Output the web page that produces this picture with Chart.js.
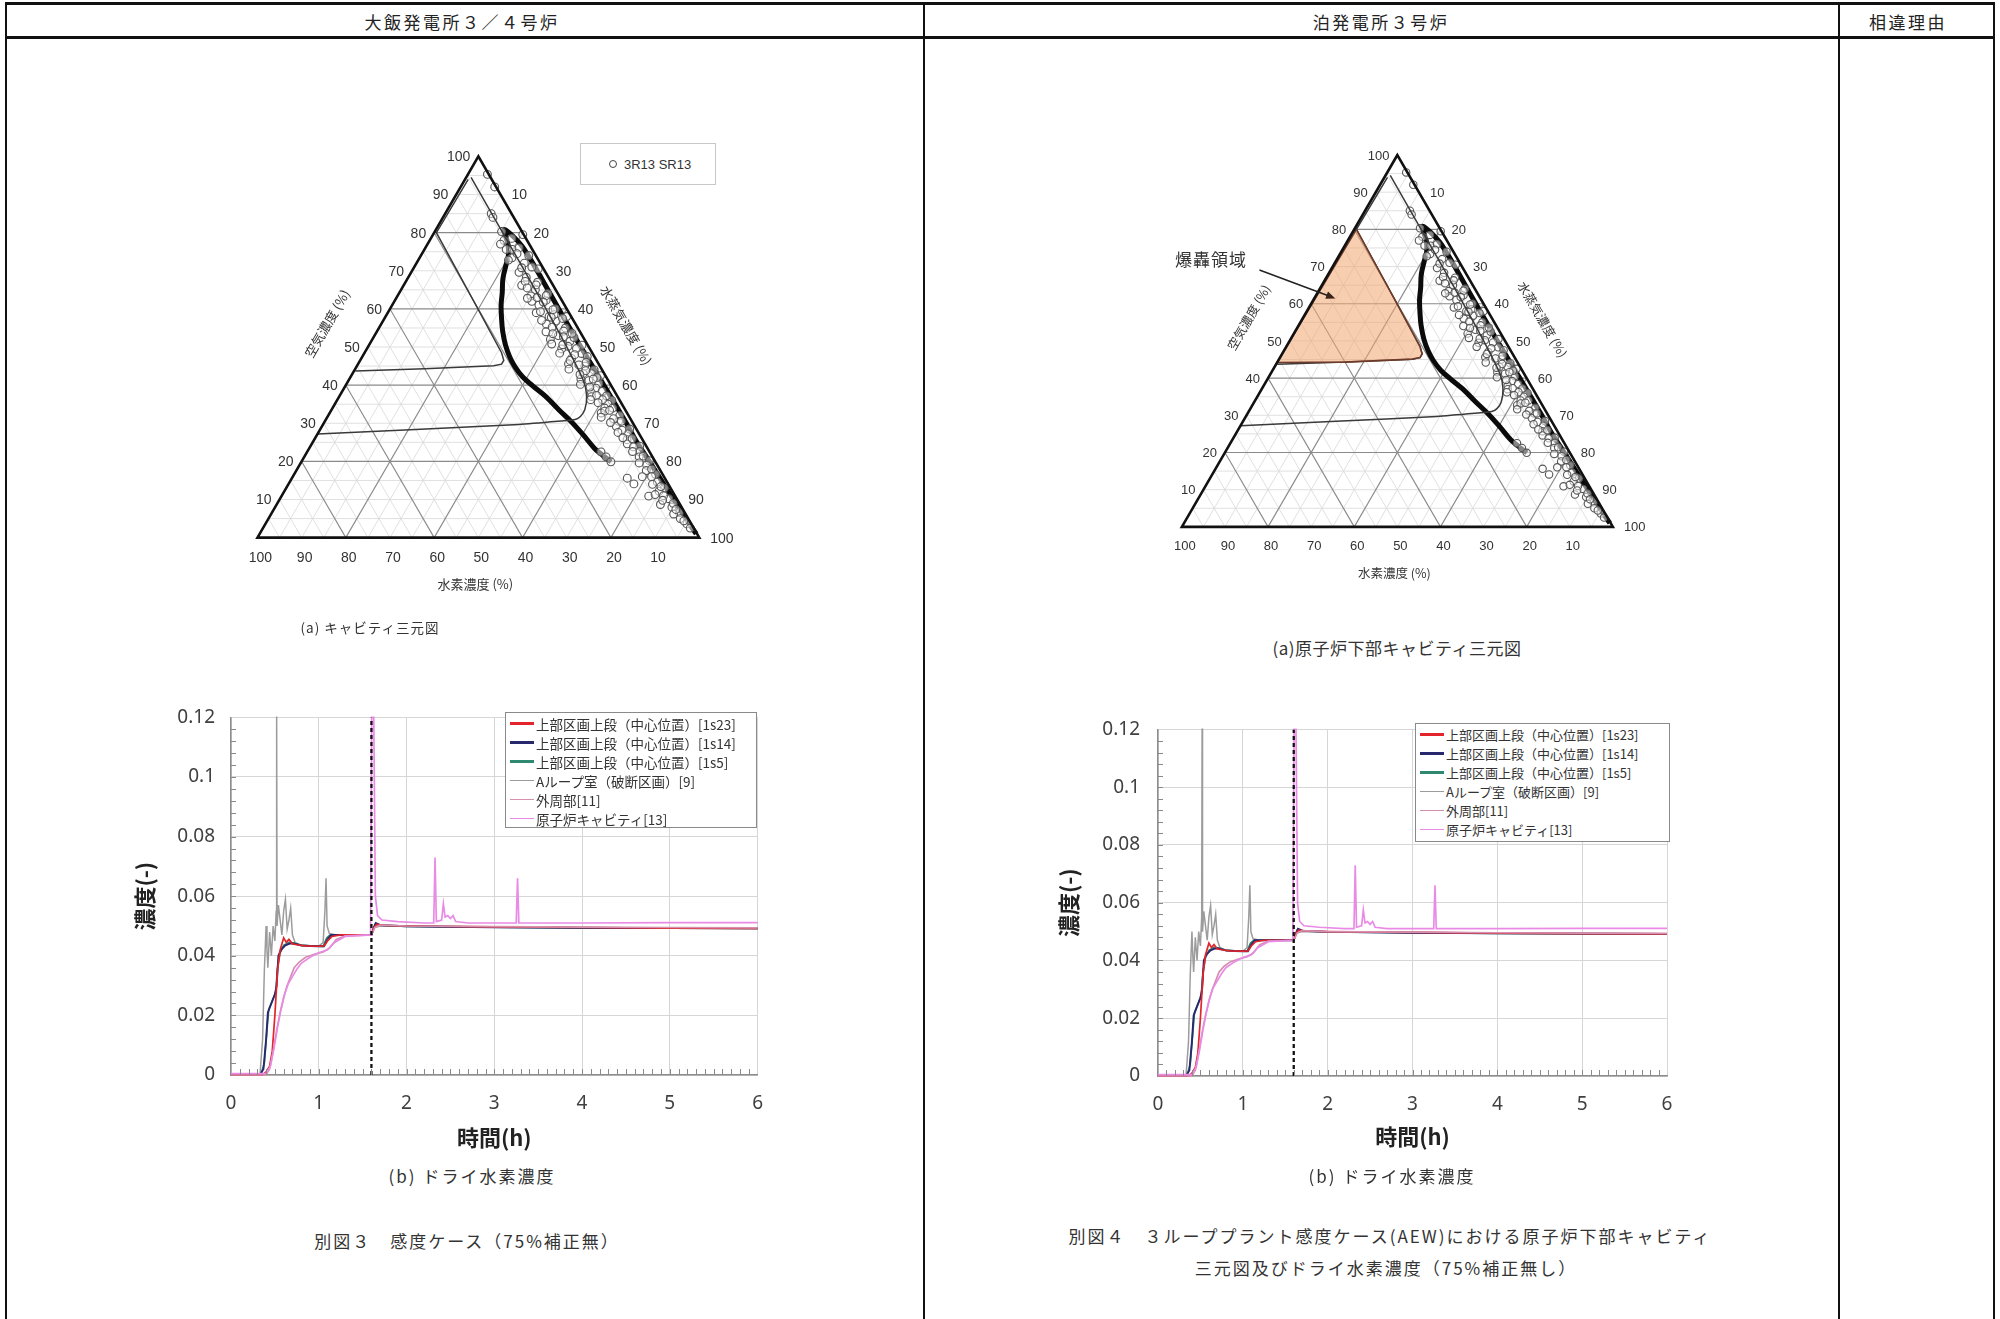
<!DOCTYPE html>
<html lang="ja">
<head>
<meta charset="utf-8">
<title>三元図及びドライ水素濃度</title>
<script src="https://cdn.jsdelivr.net/npm/chart.js@4.4.1/dist/chart.umd.min.js"></script>
<style>
  html, body { margin: 0; padding: 0; background: #fff; }
  body { position: relative; width: 2000px; height: 1319px; overflow: hidden;
         font-family: "Noto Sans CJK JP", sans-serif; color: #222; }
  .rule { position: absolute; background: #111; }
  .txt { position: absolute; white-space: nowrap; transform: translate(-50%, -50%); line-height: 1; }
  .hdr { font-size: 17px; letter-spacing: 2.5px; }
  .cap { font-size: 17px; letter-spacing: 2px; color: #333; }
  canvas { position: absolute; }
  .legend { position: absolute; background: #fff; border: 1.5px solid #8a8a8a; box-sizing: border-box;
            font-size: 13.5px; color: #333; padding-top: 1px; }
  .legend div { display: flex; align-items: center; height: 19px; white-space: nowrap; }
  .legend .sw { display: inline-block; width: 24px; height: 2px; margin: 0 2px 0 4px; }
  .tlegend { position: absolute; border: 1px solid #c8c8c8; background: #fff; box-sizing: border-box;
             font: 13px "Liberation Sans", Arial, sans-serif; color: #333; display: flex; align-items: center; }
  .tlegend i { display: inline-block; width: 6px; height: 6px; border: 1.3px solid #444; border-radius: 50%; margin: 0 7px 0 28px; }
</style>
</head>
<body>

<!-- table frame -->
<div class="rule" style="left:5px;top:2px;width:1990px;height:3px"></div>
<div class="rule" style="left:5px;top:36px;width:1990px;height:3px"></div>
<div class="rule" style="left:5px;top:2px;width:1.5px;height:1317px"></div>
<div class="rule" style="left:923px;top:2px;width:1.5px;height:1317px"></div>
<div class="rule" style="left:1838px;top:2px;width:1.5px;height:1317px"></div>
<div class="rule" style="left:1993px;top:2px;width:1.5px;height:1317px"></div>

<div class="txt hdr" style="left:462px;top:21px">大飯発電所３／４号炉</div>
<div class="txt hdr" style="left:1381px;top:21px">泊発電所３号炉</div>
<div class="txt hdr" style="left:1908px;top:21px">相違理由</div>

<!-- ternary diagrams -->
<canvas id="terL" width="640" height="520" style="left:150px;top:110px"></canvas>
<canvas id="terR" width="640" height="520" style="left:1100px;top:110px"></canvas>

<div class="tlegend" style="left:580px;top:143px;width:136px;height:42px"><i></i>3R13 SR13</div>
<div class="txt" style="left:1211px;top:258px;font-size:17px;color:#333;letter-spacing:1px">爆轟領域</div>

<div class="txt cap" style="left:370px;top:628px;font-size:13.5px;letter-spacing:1px">(a) キャビティ三元図</div>
<div class="txt cap" style="left:1397px;top:647px;font-size:17px;letter-spacing:0.5px">(a)原子炉下部キャビティ三元図</div>

<!-- concentration charts -->
<canvas id="lineL" width="680" height="470" style="left:100px;top:690px"></canvas>
<canvas id="lineR" width="680" height="475" style="left:1030px;top:700px"></canvas>

<div class="legend" id="legL" style="left:505px;top:712px;width:252px;height:116px"></div>
<div class="legend" id="legR" style="left:1415px;top:723px;width:255px;height:119px;font-size:13px"></div>

<div class="txt cap" style="left:472px;top:1175px">(b) ドライ水素濃度</div>
<div class="txt cap" style="left:1392px;top:1175px">(b) ドライ水素濃度</div>

<div class="txt cap" style="left:467px;top:1240px">別図３　感度ケース（75%補正無）</div>
<div class="txt cap" style="left:1390px;top:1235px">別図４　３ループプラント感度ケース(AEW)における原子炉下部キャビティ</div>
<div class="txt cap" style="left:1386px;top:1267px">三元図及びドライ水素濃度（75%補正無し）</div>

<script>
// ---------- ternary data: [hydrogen %, air %]  (steam = the rest) ----------
const ternTicks = [10, 20, 30, 40, 50, 60, 70, 80, 90, 100];
const gridMinor = [5, 10, 15, 25, 30, 35, 45, 50, 55, 65, 70, 75, 85, 90, 95];
const gridMajor = [20, 40, 60, 80];

const markerPts = [
  [0.3, 95.3], [0.3, 92], [4.6, 85], [4.7, 84], [4.6, 80.3], [0.2, 79.5], [5.9, 75.6], [4.5, 75.6],
  [5.7, 73.4], [3.6, 72], [6, 69.6], [5, 68.3], [3.1, 67], [7.1, 66.2], [4.6, 65], [6.4, 63.4],
  [3.5, 62.3], [5.8, 61], [2.6, 60], [7.4, 59], [5, 58], [4, 56.8], [6.6, 56], [2.8, 55],
  [7.7, 54], [5.4, 53], [7.7, 52], [3.5, 51.5], [4.6, 50.2], [6.4, 49.5], [2.5, 48.3], [5.4, 47],
  [6.8, 45.6], [3.4, 45], [1.8, 44], [4.8, 43], [6, 41.6], [2.5, 40.5], [3.8, 39.2], [5.4, 38],
  [5.9, 37], [1.8, 36], [3.2, 35], [4.4, 34], [5.85, 32.7], [2, 32], [3, 30.5], [4.2, 29.2],
  [1.5, 28.5], [2.6, 27.2], [3.5, 25.7], [4, 24.6], [1.5, 24], [2.2, 22.6], [3, 21.2], [1.2, 20.2],
  [2.4, 19], [3.2, 17.6], [1.6, 16.6], [4.9, 16], [8.5, 15.6], [7.75, 14.1], [2.2, 14.6], [1.4, 13],
  [3, 12.2], [6, 10.9], [4.35, 11.3], [1.8, 10.2], [4.45, 8.7], [2.2, 8], [1.2, 6.6], [1.8, 5],
  [1, 3.6], [11, 22.5], [10.5, 21.2], [10.05, 19.9], [1.2, 70.5], [1.6, 74], [1, 58], [1.3, 50.5],
  [1.1, 42.5], [2.3, 64], [2.1, 52.5], [2.9, 43], [3.6, 58.5], [6.9, 62],
  [3.2, 78.5], [5.2, 78], [6.5, 77], [2.8, 76], [4, 74.5], [6.8, 72.8], [2.4, 71], [4.8, 70.8],
  [5.8, 67.2], [3.8, 66.3], [6.2, 65.5], [2.9, 63.5], [5.2, 63], [7.5, 62.8], [4.4, 61.8], [3.2, 59.8],
  [6.3, 59.3], [4.6, 57.8], [7.2, 57], [2.2, 57.5], [5.7, 55.2], [3.6, 54.2], [6.4, 53.5], [2, 53.6],
  [4.4, 52.7], [8, 50.8], [5.6, 50.6], [3, 49.6], [7.4, 48.4], [4.2, 48], [1.6, 47.5], [6, 46.5],
  [2.6, 46], [4.6, 45.3], [7.4, 44.2], [3.8, 43.8], [5.6, 42.8], [2.2, 42], [4.4, 41.2], [6.8, 40.2],
  [3.2, 41.6], [5, 39.5], [2.8, 38.4], [4.6, 37.3], [6.5, 36.2], [2.4, 37.2], [3.8, 36.2], [5.2, 35.4],
  [2.6, 34], [4.8, 33.2], [3.6, 33.4], [6.4, 31.6], [2.4, 30.5], [3.8, 31.2], [5, 30.2], [3.4, 28.2],
  [4.6, 27.6], [2.2, 26], [4.2, 26.2], [3, 23.8], [2, 21.4], [3.8, 22.6], [1.8, 18], [2.8, 16],
  [3.8, 19.6], [2, 13.4], [2.6, 11], [1.4, 9], [3.4, 9.8], [2.7, 6.2], [1.6, 7.4], [1.3, 4.4],
  [0.8, 2.5], [3.6, 14]
];
const thickPath = [
  [10, 19.9], [11, 21.5], [12, 23.4], [12.8, 27], [13.7, 30.3], [15, 33.5], [16.3, 37.1], [17.8, 39.8],
  [18.9, 42.2], [19.3, 44.8], [19.2, 47.4], [18.6, 50.5], [17.4, 54.2], [16, 57.5], [14.3, 61.1],
  [12.5, 64.2], [10.5, 67.9], [8, 71.5], [6.2, 74], [4.8, 77], [3.8, 80.8], [2.6, 79], [1.9, 76.5],
  [1.7, 73], [1.7, 68], [1.8, 60], [1.8, 50], [1.6, 40], [1.5, 30], [1.6, 25], [1.3, 20],
  [1.0, 14], [0.7, 8], [0.4, 3], [0.2, 1]
];
const flamPts = [
  [4.4, 94.5], [4.5, 80], [4.6, 65], [4.9, 52], [5.6, 41.3], [7, 37], [9.1, 33.6], [11, 31.8],
  [12.6, 31], [16, 30.6], [26, 29.7], [50, 28.4], [72.8, 27.2]
];
const detPts = [
  [5.3, 94], [19.5, 80], [20.1, 60], [20.5, 48.5], [21, 46.5], [22, 45.5], [24, 45.1], [40, 44.3], [56, 43.7]
];
const regionPts = [
  [19.5, 80], [20.1, 60], [20.5, 48.5], [21, 46.5], [22, 45.5], [24, 45.1], [40, 44.3], [55.8, 44.2], [19.5, 80]
];

// ---------- concentration data: [time h, concentration -] ----------
const breakTime = 1.6;
const s1s23 = [[0,0],[0.36,0],[0.40,0.001],[0.44,0.003],[0.47,0.008],[0.50,0.02],[0.53,0.035],[0.56,0.042],
  [0.60,0.046],[0.63,0.0445],[0.66,0.0455],[0.70,0.044],[0.75,0.0437],[0.85,0.0433],[1.0,0.0432],[1.06,0.0433],
  [1.1,0.045],[1.15,0.0465],[1.25,0.047],[1.6,0.047],[1.63,0.0495],[1.66,0.0505],[1.75,0.0502],[2,0.050],
  [3,0.0497],[4,0.0495],[5,0.0493],[6,0.0492]];
const s1s14 = [[0,0],[0.33,0],[0.37,0.002],[0.40,0.012],[0.42,0.021],[0.46,0.024],[0.50,0.027],[0.52,0.03],
  [0.54,0.04],[0.57,0.042],[0.62,0.0435],[0.66,0.044],[0.70,0.0442],[0.8,0.0435],[0.9,0.0433],[1.0,0.0432],
  [1.06,0.0432],[1.1,0.0455],[1.14,0.047],[1.25,0.047],[1.6,0.047],[1.62,0.049],[1.65,0.051],[1.7,0.0503],
  [2,0.0499],[3,0.0496],[4,0.0494],[5,0.0493],[6,0.0492]];
const s1s5 = [[0,0],[0.34,0],[0.38,0.004],[0.41,0.015],[0.43,0.022],[0.47,0.025],[0.51,0.028],[0.53,0.036],
  [0.56,0.041],[0.60,0.0435],[0.66,0.0445],[0.72,0.0443],[0.8,0.0436],[0.9,0.0433],[1.05,0.0432],[1.09,0.046],
  [1.13,0.047],[1.25,0.047],[1.6,0.047],[1.62,0.0485],[1.64,0.0505],[1.7,0.0502],[2,0.0499],[3,0.0496],
  [4,0.0494],[5,0.0493],[6,0.0492]];
const sLoop9 = [[0,0],[0.33,0],[0.36,0.012],[0.38,0.035],[0.40,0.05],[0.41,0.042],[0.42,0.036],[0.44,0.048],
  [0.46,0.04],[0.48,0.05],[0.50,0.045],[0.515,0.055],[0.52,0.125],[0.525,0.05],[0.54,0.057],[0.56,0.052],
  [0.58,0.047],[0.60,0.055],[0.62,0.059],[0.64,0.049],[0.66,0.052],[0.68,0.056],[0.70,0.047],[0.73,0.0445],
  [0.8,0.0433],[0.9,0.0432],[1.0,0.0432],[1.05,0.0445],[1.07,0.055],[1.083,0.066],[1.095,0.05],[1.12,0.0475],
  [1.2,0.047],[1.6,0.047],[1.63,0.0495],[1.7,0.050],[2,0.0499],[3,0.0496],[4,0.0494],[5,0.0493],[6,0.0492]];
const sOuter11 = [[0,0],[0.40,0],[0.44,0.002],[0.48,0.008],[0.52,0.015],[0.56,0.021],[0.60,0.026],[0.64,0.030],
  [0.68,0.033],[0.72,0.036],[0.78,0.038],[0.85,0.0395],[0.95,0.0405],[1.05,0.0413],[1.12,0.0425],[1.2,0.0455],
  [1.3,0.0467],[1.6,0.047],[1.64,0.0495],[1.7,0.0503],[2,0.050],[3,0.0498],[4,0.0496],[5,0.0495],[6,0.0494]];
const sCavity13 = [[0,0.0005],[0.40,0.0005],[0.45,0.003],[0.49,0.009],[0.53,0.016],[0.57,0.022],[0.61,0.027],
  [0.65,0.0305],[0.68,0.032],[0.70,0.033],[0.75,0.0355],[0.8,0.0375],[0.9,0.0395],[1.0,0.041],[1.1,0.042],
  [1.18,0.0445],[1.3,0.0465],[1.59,0.047],[1.605,0.125],[1.625,0.125],[1.645,0.06],[1.67,0.0535],[1.72,0.052],
  [1.9,0.0515],[2.2,0.051],[2.31,0.051],[2.325,0.073],[2.34,0.0515],[2.40,0.052],[2.42,0.0575],[2.44,0.053],
  [2.47,0.0535],[2.5,0.0525],[2.53,0.0535],[2.56,0.0515],[2.7,0.051],[3.25,0.051],[3.265,0.066],[3.28,0.051],
  [4,0.051],[5,0.0511],[6,0.0511]];

const seriesNames = ['上部区画上段（中心位置）[1s23]', '上部区画上段（中心位置）[1s14]', '上部区画上段（中心位置）[1s5]',
  'Aループ室（破断区画）[9]', '外周部[11]', '原子炉キャビティ[13]'];
const seriesData = [s1s23, s1s14, s1s5, sLoop9, sOuter11, sCavity13];
const seriesColors = ['#e3242b', '#28286e', '#2f8870', '#9c9c9c', '#d68fae', '#e98be6'];
const seriesWidths = [1.7, 1.9, 1.7, 1.5, 1.7, 1.7];
const seriesOrder = [3, 4, 5, 6, 2, 1];
const xTicks = [0, 1, 2, 3, 4, 5, 6];
const yTicks = [0, 0.02, 0.04, 0.06, 0.08, 0.1, 0.12];

// ---------- ternary helpers ----------
const SQ3 = Math.sqrt(3) / 2;
function tern(h, a) {
  const s = 100 - h - a;
  return { x: s + a / 2, y: a * SQ3 };
}
const toXY = pts => pts.map(p => tern(p[0], p[1]));

const ternaryFrame = {
  id: 'ternaryFrame',
  beforeDatasetsDraw(chart) {
    const ctx = chart.ctx, xs = chart.scales.x, ys = chart.scales.y;
    const P = (h, a) => { const q = tern(h, a); return [xs.getPixelForValue(q.x), ys.getPixelForValue(q.y)]; };
    const seg = (p, q) => { ctx.beginPath(); ctx.moveTo(p[0], p[1]); ctx.lineTo(q[0], q[1]); ctx.stroke(); };
    ctx.save();
    [[gridMinor, '#dcdcdc', 0.9], [gridMajor, '#8a8a8a', 1.1]].forEach(([vals, col, w]) => {
      ctx.strokeStyle = col; ctx.lineWidth = w;
      vals.forEach(v => {
        seg(P(100 - v, v), P(0, v));
        seg(P(v, 100 - v), P(v, 0));
        seg(P(0, 100 - v), P(100 - v, 0));
      });
    });
    ctx.restore();
  },
  afterDatasetsDraw(chart, args, opts) {
    const ctx = chart.ctx, xs = chart.scales.x, ys = chart.scales.y;
    const P = (h, a) => { const q = tern(h, a); return [xs.getPixelForValue(q.x), ys.getPixelForValue(q.y)]; };
    ctx.save();
    const A = P(0, 100), B = P(100, 0), C = P(0, 0);
    ctx.strokeStyle = '#111'; ctx.lineWidth = 2.6; ctx.lineJoin = 'miter';
    ctx.beginPath(); ctx.moveTo(A[0], A[1]); ctx.lineTo(B[0], B[1]); ctx.lineTo(C[0], C[1]); ctx.closePath(); ctx.stroke();

    ctx.fillStyle = '#333';
    ctx.font = opts.fontSize + 'px "Liberation Sans", Arial, sans-serif';
    ctx.textBaseline = 'middle';
    ternTicks.forEach(v => {
      let p = P(100 - v, v);
      ctx.textAlign = 'right'; ctx.fillText(String(v), p[0] - 8, p[1] + 1);
      p = P(0, 100 - v);
      ctx.textAlign = 'left'; ctx.fillText(String(v), p[0] + 11, p[1] + 1);
      p = P(v, 0);
      ctx.textAlign = 'center'; ctx.fillText(String(v), p[0] + 3, p[1] + 20);
    });

    ctx.font = opts.titleSize + 'px "Noto Sans CJK JP", sans-serif';
    ctx.textAlign = 'center';
    const bm = P(50, 0);
    ctx.fillText('水素濃度 (%)', bm[0] - 3, bm[1] + 46);
    const lm = P(50, 50);
    ctx.translate(lm[0] - 0.866 * 47, lm[1] - 0.5 * 47); ctx.rotate(-Math.PI / 3);
    ctx.fillText('空気濃度 (%)', 0, 0);
    ctx.setTransform(1, 0, 0, 1, 0, 0);
    const rm = P(0, 50);
    ctx.translate(rm[0] + 0.866 * 43, rm[1] - 0.5 * 43); ctx.rotate(Math.PI / 3);
    ctx.fillText('水蒸気濃度 (%)', 0, 0);
    ctx.setTransform(1, 0, 0, 1, 0, 0);

    if (opts.arrow) {
      const t = [xs.getPixelForValue(opts.arrow[0][0]), ys.getPixelForValue(opts.arrow[0][1])];
      const h = [xs.getPixelForValue(opts.arrow[1][0]), ys.getPixelForValue(opts.arrow[1][1])];
      const ang = Math.atan2(h[1] - t[1], h[0] - t[0]);
      ctx.strokeStyle = '#222'; ctx.fillStyle = '#3a2418'; ctx.lineWidth = 1.5;
      ctx.beginPath(); ctx.moveTo(t[0], t[1]); ctx.lineTo(h[0] - 6 * Math.cos(ang), h[1] - 6 * Math.sin(ang)); ctx.stroke();
      ctx.beginPath();
      ctx.moveTo(h[0], h[1]);
      ctx.lineTo(h[0] - 10 * Math.cos(ang - 0.4), h[1] - 10 * Math.sin(ang - 0.4));
      ctx.lineTo(h[0] - 10 * Math.cos(ang + 0.4), h[1] - 10 * Math.sin(ang + 0.4));
      ctx.closePath(); ctx.fill();
    }
    ctx.restore();
  }
};

function makeTernary(id, geo, withRegion) {
  const cv = document.getElementById(id);
  const ppu = geo.side / 100;
  const left = parseFloat(cv.style.left), top = parseFloat(cv.style.top);
  const datasets = [];
  if (withRegion) {
    datasets.push({ data: toXY(regionPts), showLine: true, fill: 'shape', backgroundColor: 'rgba(242,165,112,0.55)',
      borderColor: '#6e3a2a', borderWidth: 1.6, pointRadius: 0, clip: false });
  }
  datasets.push({ data: toXY(detPts), showLine: true, borderColor: '#3a3a3a', borderWidth: 1.5, pointRadius: 0, clip: false });
  datasets.push({ data: toXY(flamPts), showLine: true, borderColor: '#3a3a3a', borderWidth: 1.5, pointRadius: 0, tension: 0.25, clip: false });
  datasets.push({ data: toXY(markerPts), showLine: false, pointRadius: geo.marker, pointBorderWidth: 1.1,
    pointBorderColor: '#555', pointBackgroundColor: 'rgba(255,255,255,0.5)', clip: false });
  datasets.push({ data: toXY(thickPath), showLine: true, borderColor: '#0b0b0b', borderWidth: 5, pointRadius: 0,
    tension: 0.35, clip: false });
  new Chart(cv, {
    type: 'scatter',
    data: { datasets },
    options: {
      responsive: false, animation: false, events: [],
      layout: { padding: 0 },
      plugins: { legend: { display: false }, tooltip: { enabled: false },
        ternaryFrame: { fontSize: geo.font, titleSize: geo.title, arrow: geo.arrow } },
      scales: {
        x: { type: 'linear', display: false, min: (left - geo.blX) / ppu, max: (left + cv.width - geo.blX) / ppu },
        y: { type: 'linear', display: false, min: (geo.blY - top - cv.height) / ppu, max: (geo.blY - top) / ppu }
      }
    },
    plugins: [ternaryFrame]
  });
}

makeTernary('terL', { blX: 254, blY: 541, side: 449, font: 14, title: 13, marker: 3.9 }, false);
makeTernary('terR', { blX: 1178, blY: 530, side: 438, font: 13, title: 12.5, marker: 3.7,
  arrow: [[18.0, 59.8], [35.6, 53.2]] }, true);

// ---------- concentration charts ----------
const minorTicks = {
  id: 'minorTicks',
  afterDraw(chart) {
    const ctx = chart.ctx, xs = chart.scales.x, ys = chart.scales.y, ca = chart.chartArea;
    ctx.save();
    ctx.strokeStyle = '#8a8a8a'; ctx.lineWidth = 1;
    for (let i = 1; i < 60; i++) {
      const x = Math.round(xs.getPixelForValue(i / 10)) + 0.5;
      ctx.beginPath(); ctx.moveTo(x, ca.bottom); ctx.lineTo(x, ca.bottom - 6); ctx.stroke();
    }
    for (let i = 1; i < 30; i++) {
      const y = Math.round(ys.getPixelForValue(i * 0.004)) + 0.5;
      ctx.beginPath(); ctx.moveTo(ca.left, y); ctx.lineTo(ca.left + 5, y); ctx.stroke();
    }
    ctx.restore();
  }
};

function makeLine(id, geo) {
  const cv = document.getElementById(id);
  const datasets = seriesData.map((d, i) => ({
    label: seriesNames[i],
    data: d.map(p => ({ x: p[0], y: p[1] })),
    borderColor: seriesColors[i], borderWidth: seriesWidths[i], order: seriesOrder[i],
    pointRadius: 0, tension: 0, clip: 1
  }));
  datasets.push({ label: 'break', data: [{ x: breakTime, y: 0 }, { x: breakTime, y: 0.12 }],
    borderColor: '#111', borderWidth: 2.3, borderDash: [4, 3], pointRadius: 0, order: 0 });
  new Chart(cv, {
    type: 'line',
    data: { datasets },
    options: {
      responsive: false, animation: false, events: [],
      layout: { padding: { top: geo.padTop, right: geo.padRight, left: 0, bottom: 0 } },
      plugins: { legend: { display: false }, tooltip: { enabled: false } },
      scales: {
        x: {
          type: 'linear', min: 0, max: 6,
          afterBuildTicks: s => { s.ticks = xTicks.map(v => ({ value: v })); },
          ticks: { color: '#404040', font: { size: 19, family: '"Noto Sans", sans-serif' }, padding: 17, maxRotation: 0 },
          grid: { color: '#d6d6d6', drawTicks: false },
          border: { color: '#8c8c8c', width: 1.5 },
          title: { display: true, text: '時間(h)', color: '#222',
            font: { size: 22, weight: 'bold', family: '"Noto Sans CJK JP", sans-serif' },
            padding: { top: 0, bottom: geo.xTitlePad } },
          afterFit: s => { s.height = geo.xAxisH; }
        },
        y: {
          type: 'linear', min: 0, max: 0.12,
          afterBuildTicks: s => { s.ticks = yTicks.map(v => ({ value: v })); },
          ticks: { color: '#404040', font: { size: 19, family: '"Noto Sans", sans-serif' }, padding: geo.yTickPad,
            callback: v => String(+v.toFixed(2)) },
          grid: { color: '#d6d6d6', drawTicks: false },
          border: { color: '#8c8c8c', width: 1.5 },
          title: { display: true, text: '濃度(-)', color: '#222',
            font: { size: 22, weight: 'bold', family: '"Noto Sans CJK JP", sans-serif' },
            padding: { top: geo.yTitlePad, bottom: 0 } },
          afterFit: s => { s.width = geo.yAxisW; }
        }
      }
    },
    plugins: [minorTicks]
  });
}

makeLine('lineL', { padTop: 18, padRight: 21, xAxisH: 85, yAxisW: 131, xTitlePad: 9, yTitlePad: 31, yTickPad: 16 });
makeLine('lineR', { padTop: 22, padRight: 43, xAxisH: 99, yAxisW: 128, xTitlePad: 25, yTitlePad: 25, yTickPad: 18 });

// html legends
function fillLegend(id) {
  const box = document.getElementById(id);
  seriesNames.forEach((n, i) => {
    const row = document.createElement('div');
    const sw = document.createElement('span');
    sw.className = 'sw';
    sw.style.background = seriesColors[i];
    sw.style.height = (i < 3 ? 2.5 : 1.5) + 'px';
    row.appendChild(sw);
    row.appendChild(document.createTextNode(n));
    box.appendChild(row);
  });
}
fillLegend('legL');
fillLegend('legR');
</script>
</body>
</html>
